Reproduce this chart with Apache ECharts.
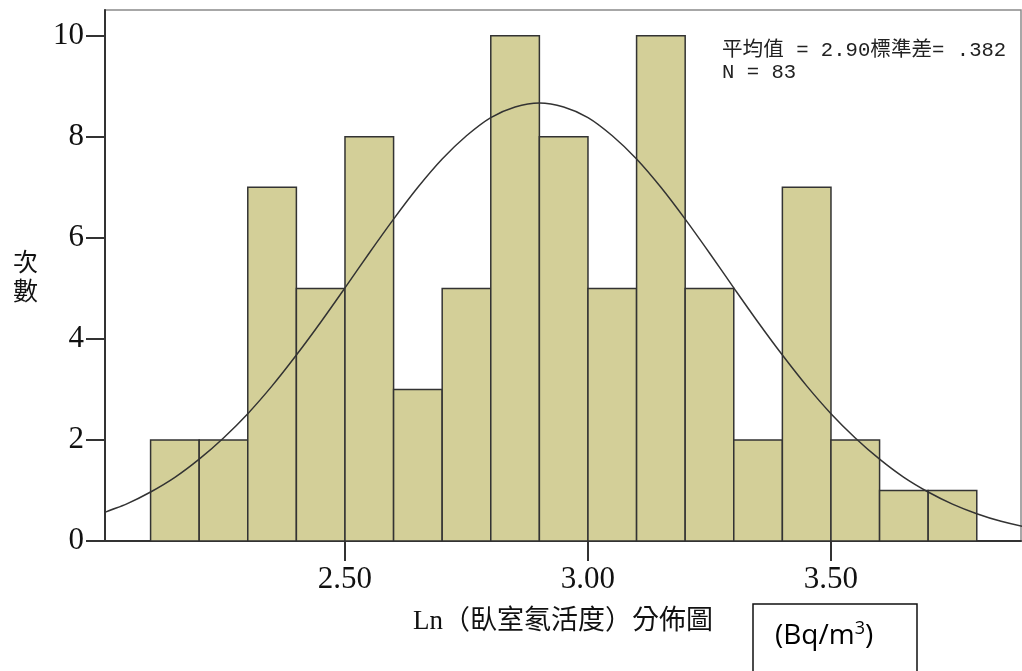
<!DOCTYPE html>
<html>
<head>
<meta charset="utf-8">
<script src="https://cdn.jsdelivr.net/npm/echarts@6/dist/echarts.min.js"></script>
<style>
  html, body { margin: 0; padding: 0; background: #fff; }
  #chart { width: 1022px; height: 671px; }
</style>
</head>
<body>
<div id="chart"></div>
<script>
// ---- Data ----
const binEdges = [2.1, 2.2, 2.3, 2.4, 2.5, 2.6, 2.7, 2.8, 2.9, 3.0, 3.1, 3.2, 3.3, 3.4, 3.5, 3.6, 3.7, 3.8];
const counts   = [2, 2, 7, 5, 8, 3, 5, 10, 8, 5, 10, 5, 2, 7, 2, 1, 1];
// fitted normal curve, read at 0.05 steps
const curveX = [1.95, 2.0, 2.05, 2.1, 2.15, 2.2, 2.25, 2.3, 2.35, 2.4, 2.45, 2.5, 2.55, 2.6, 2.65, 2.7, 2.75, 2.8, 2.85, 2.9,
                2.95, 3.0, 3.05, 3.1, 3.15, 3.2, 3.25, 3.3, 3.35, 3.4, 3.45, 3.5, 3.55, 3.6, 3.65, 3.7, 3.75, 3.8, 3.85, 3.9, 3.95];
const curveY = [0.20, 0.54, 0.73, 0.97, 1.26, 1.62, 2.04, 2.52, 3.07, 3.68, 4.33, 5.01, 5.70, 6.37, 7.00, 7.56, 8.02, 8.38, 8.59, 8.67,
                8.59, 8.38, 8.02, 7.56, 7.00, 6.37, 5.70, 5.01, 4.33, 3.68, 3.07, 2.52, 2.04, 1.62, 1.26, 0.97, 0.73, 0.54, 0.39, 0.28, 0.20];
const xTicks = [2.5, 3.0, 3.5];
const yTicks = [0, 2, 4, 6, 8, 10];
const statsLines = ['平均值 = 2.90標準差= .382', 'N = 83'];
const xTitle = 'Ln（臥室氡活度）分佈圖';
const yTitle = ['次', '數'];

const bars = counts.map((c, i) => [binEdges[i], binEdges[i + 1], c]);
const curve = curveX.map((x, i) => [x, curveY[i]]);

const serif = '"Liberation Serif", "DejaVu Serif", serif';
const cjk = '"Liberation Serif", "Noto Sans CJK TC", serif';
const sans = '"Open Sans", "Liberation Sans", sans-serif';

const chart = echarts.init(document.getElementById('chart'), null, { renderer: 'canvas' });
chart.setOption({
  animation: false,
  backgroundColor: '#ffffff',
  grid: {
    left: 105, right: 1, top: 10, bottom: 130,
    show: true, borderColor: '#8a8a8a', borderWidth: 1.5, backgroundColor: 'transparent'
  },
  xAxis: {
    type: 'value',
    min: 2.0062, max: 3.891,
    name: xTitle,
    nameLocation: 'middle',
    nameGap: 67,
    nameTextStyle: { fontFamily: cjk, fontSize: 27, color: '#111' },
    splitLine: { show: false },
    axisLine: { show: true, onZero: false, lineStyle: { color: '#333', width: 2 } },
    axisTick: { show: true, customValues: xTicks, length: 20, inside: false, lineStyle: { color: '#333', width: 2 } },
    axisLabel: {
      customValues: xTicks, margin: 23,
      fontFamily: serif, fontSize: 31, color: '#111',
      formatter: v => v.toFixed(2)
    }
  },
  yAxis: {
    type: 'value',
    min: 0, max: 10.51,
    splitLine: { show: false },
    axisLine: { show: true, lineStyle: { color: '#333', width: 2 } },
    axisTick: { show: true, customValues: yTicks, length: 19, lineStyle: { color: '#333', width: 2 } },
    axisLabel: {
      customValues: yTicks, margin: 21,
      fontFamily: serif, fontSize: 31, color: '#111'
    }
  },
  series: [
    {
      type: 'custom',
      data: bars,
      encode: { x: [0, 1], y: 2 },
      z: 2,
      renderItem: function (params, api) {
        const p0 = api.coord([api.value(0), 0]);
        const p1 = api.coord([api.value(1), api.value(2)]);
        return {
          type: 'rect',
          shape: { x: p0[0], y: p1[1], width: p1[0] - p0[0], height: p0[1] - p1[1] },
          style: { fill: '#d3cf98', stroke: '#333', lineWidth: 1.5 }
        };
      }
    },
    {
      type: 'line',
      data: curve,
      smooth: 0.3,
      showSymbol: false,
      clip: true,
      z: 3,
      lineStyle: { color: '#333', width: 1.5 }
    }
  ],
  graphic: [
    {
      type: 'text', left: 722, top: 40, z: 10,
      style: {
        text: statsLines.join('\n'),
        fontFamily: '"Liberation Mono", "Noto Sans CJK TC", monospace',
        fontSize: 20.6, lineHeight: 22, fill: '#222'
      }
    },
    {
      type: 'text', left: 13, top: 247, z: 10,
      style: {
        text: yTitle.join('\n'),
        fontFamily: '"Noto Sans CJK TC", serif',
        fontSize: 25, lineHeight: 29, fill: '#111'
      }
    },
    {
      type: 'rect', z: 10,
      shape: { x: 753, y: 604, width: 164, height: 80 },
      style: { fill: '#fff', stroke: '#111', lineWidth: 1.5 }
    },
    {
      type: 'text', left: 775, top: 620, z: 11,
      style: {
        rich: {
          a: { fontFamily: sans, fontSize: 28, fill: '#000' },
          s: { fontFamily: sans, fontSize: 18, fill: '#000', verticalAlign: 'top', padding: [0, 0, 14, 0] }
        },
        text: '{a|(Bq/m}{s|3}{a|)}'
      }
    }
  ]
});
</script>
</body>
</html>
